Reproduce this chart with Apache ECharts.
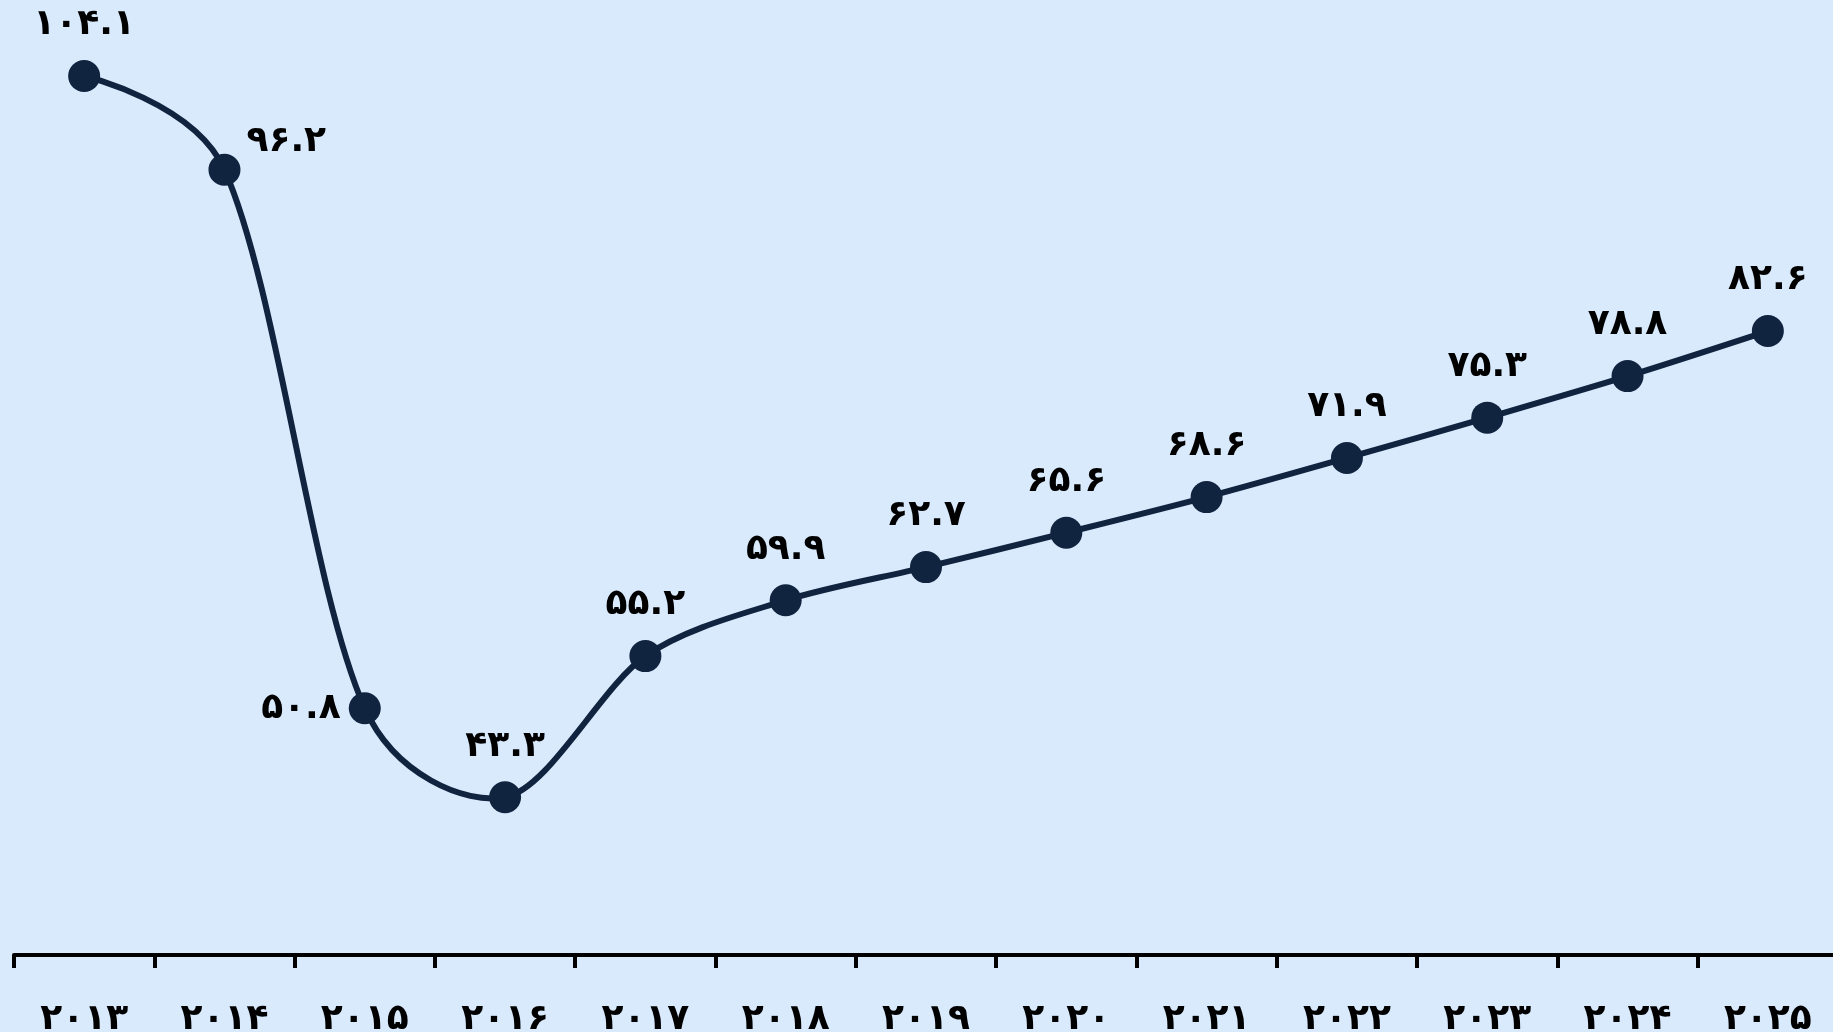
<!DOCTYPE html>
<html>
<head>
<meta charset="utf-8">
<style>
html,body{margin:0;padding:0;width:1833px;height:1032px;background:#d9eafd;overflow:hidden;}
#chart{position:absolute;left:0;top:0;width:1833px;height:1032px;}
</style>
<script src="https://cdn.jsdelivr.net/npm/echarts@6/dist/echarts.min.js"></script>
</head>
<body>
<div id="chart"></div>
<script>
const years = [2013, 2014, 2015, 2016, 2017, 2018, 2019, 2020, 2021, 2022, 2023, 2024, 2025];
const values = [104.1, 96.2, 50.8, 43.3, 55.2, 59.9, 62.7, 65.6, 68.6, 71.9, 75.3, 78.8, 82.6];

const faDigits = '۰۱۲۳۴۵۶۷۸۹';
function toFa(v) { return String(v).replace(/[0-9]/g, d => faDigits[+d]); }

const FONT = '"DejaVu Sans", sans-serif';
const labelPos = { 1: { position: 'right', offset: [0, -28], distance: 6 }, 2: { position: 'left', distance: 8 } };
const SMOOTH = 0.3;

function segCtrl(pts, i) {
  function handles(k) {
    if (k === 0 || k === pts.length - 1) return { b: pts[k], f: pts[k] };
    const p = pts[k - 1], c = pts[k], n = pts[k + 1];
    const a = Math.sqrt(Math.hypot(c[0] - p[0], c[1] - p[1]));
    const b = Math.sqrt(Math.hypot(n[0] - c[0], n[1] - c[1]));
    const r = b / (a + b);
    const vx = n[0] - p[0], vy = n[1] - p[1];
    return {
      b: [c[0] - vx * SMOOTH * (1 - r), c[1] - vy * SMOOTH * (1 - r)],
      f: [c[0] + vx * SMOOTH * r, c[1] + vy * SMOOTH * r]
    };
  }
  return [handles(i).f, handles(i + 1).b];
}

const chart = echarts.init(document.getElementById('chart'));
chart.setOption({
  backgroundColor: '#d9eafd',
  animation: false,
  grid: { left: 14, top: 6, width: 1824, height: 949, containLabel: false, outerBoundsMode: 'none' },
  xAxis: {
    type: 'category',
    data: years.map(toFa),
    boundaryGap: true,
    axisLine: { lineStyle: { color: '#000', width: 4 } },
    axisTick: { show: true, length: 13, lineStyle: { color: '#000', width: 4 } },
    axisLabel: { color: '#000', fontSize: 36, fontWeight: 'bold', margin: 47, fontFamily: FONT }
  },
  yAxis: { type: 'value', min: 30, max: 110, show: false, splitLine: { show: false } },
  series: [{
    type: 'custom',
    z: 2,
    data: values.map((v, i) => [i, v]),
    renderItem: function (params, api) {
      const i = params.dataIndex;
      if (i >= values.length - 1) return null;
      const pts = values.map((v, k) => api.coord([k, v]));
      const [c1, c2] = segCtrl(pts, i);
      return {
        type: 'bezierCurve',
        shape: { x1: pts[i][0], y1: pts[i][1], cpx1: c1[0], cpy1: c1[1], cpx2: c2[0], cpy2: c2[1], x2: pts[i + 1][0], y2: pts[i + 1][1] },
        style: { stroke: '#11243f', lineWidth: 6, fill: null, lineCap: 'round' }
      };
    },
    silent: true
  }, {
    type: 'line',
    z: 3,
    data: values.map((v, i) => labelPos[i] ? { value: v, label: labelPos[i] } : v),
    symbol: 'circle',
    symbolSize: 32,
    lineStyle: { width: 0, opacity: 0 },
    itemStyle: { color: '#11243f' },
    label: {
      show: true, position: 'top', distance: 17,
      color: '#000', fontSize: 36, fontWeight: 'bold', fontFamily: FONT,
      formatter: p => toFa(p.value)
    }
  }]
});
</script>
</body>
</html>
